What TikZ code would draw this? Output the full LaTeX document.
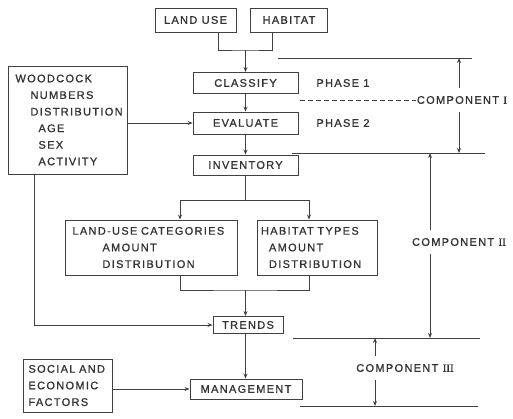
\documentclass[tikz,border=0pt]{standalone}
\usepackage{fontspec}
\newfontfamily\lettering{Liberation Sans}[LetterSpace=12, FakeBold=1]
\newfontfamily\numeral{Liberation Serif}[FakeBold=1]
\usetikzlibrary{arrows.meta}

\begin{document}
\begin{tikzpicture}[x=1pt, y=-1pt, line width=0.9pt, draw=black!75,
	every node/.style={font=\lettering\fontsize{11}{16.6}\selectfont, text=black!80},
	box/.style={draw, inner sep=0pt},
	comp/.style={inner xsep=1pt, inner ysep=8pt},
	flow/.style={-{Stealth[length=5pt,width=4pt]}}]
	\useasboundingbox (0,0) rectangle (513,418);
	% boxes
	\node [box, minimum width=81pt, minimum height=24pt] (landuse) at (195.5,20) {LAND USE};
	\node [box, minimum width=77pt, minimum height=24pt] (habitat) at (289,20) {HABITAT};
	\node [box, minimum width=105pt, minimum height=21pt] (classify) at (245.5,83) {CLASSIFY};
	\node [box, minimum width=105pt, minimum height=22pt] (evaluate) at (245.5,123) {EVALUATE};
	\node [box, minimum width=105pt, minimum height=20pt] (inventory) at (245.5,165) {INVENTORY};
	\node [box, minimum width=119pt, minimum height=108pt, text width=104pt, align=left] (woodcock) at (67.5,120)
		{WOODCOCK\\ \hspace*{15pt}NUMBERS\\ \hspace*{15pt}DISTRIBUTION\\ \hspace*{23pt}AGE\\ \hspace*{23pt}SEX\\ \hspace*{23pt}ACTIVITY};
	\node [box, minimum width=172pt, minimum height=55pt, text width=157pt, align=left] (landusecat) at (151,247.5)
		{LAND-USE CATEGORIES\\ \hspace*{30pt}AMOUNT\\ \hspace*{30pt}DISTRIBUTION};
	\node [box, minimum width=120pt, minimum height=55pt, text width=112pt, align=left] (habitattypes) at (317,247.5)
		{HABITAT TYPES\\ \hspace*{8pt}AMOUNT\\ \hspace*{8pt}DISTRIBUTION};
	\node [box, minimum width=70pt, minimum height=17pt] (trends) at (248,325) {TRENDS};
	\node [box, minimum width=112pt, minimum height=20pt] (management) at (246,389) {MANAGEMENT};
	\node [box, minimum width=89pt, minimum height=53pt, text width=78pt, align=left] (social) at (67.5,385.5)
		{SOCIAL AND\\ ECONOMIC\\ FACTORS};
	% side labels
	\node [anchor=west, inner sep=0pt] (phase1) at (316,83) {PHASE 1};
	\node [anchor=west, inner sep=0pt] (phase2) at (316,123) {PHASE 2};
	\node [comp] (comp1) at (462,100) {COMPONENT {\numeral I}};
	\node [comp] (comp2) at (459,242) {COMPONENT {\numeral II}};
	\node [comp] (comp3) at (405,368) {COMPONENT {\numeral III}};
	% main flow
	\coordinate (mergetop) at (245.5,50);
	\coordinate (split) at (245.5,200);
	\coordinate (merge) at (245.5,290);
	\draw ([xshift=-18pt]landuse.south east) |- (mergetop) -| ([xshift=22pt]habitat.south west);
	\draw [flow] (mergetop) -- (classify.north);
	\draw [flow] (classify) -- (evaluate);
	\draw [flow] (evaluate) -- (inventory);
	\draw [flow] (woodcock.east |- evaluate.west) -- (evaluate.west);
	\draw (inventory) -- (split);
	\draw [flow] (split) -| ([xshift=29pt]landusecat.north);
	\draw [flow] (split) -| ([xshift=-8pt]habitattypes.north);
	\draw ([xshift=29pt]landusecat.south) |- (merge) -| ([xshift=-8pt]habitattypes.south);
	\draw [flow] (merge) -- (merge |- trends.north);
	\draw [flow] ([xshift=27pt]woodcock.south west) |- (trends.west);
	\draw [flow] (trends.south -| merge) -- (management.north -| merge);
	\draw [flow] (social.east |- management.west) -- (management.west);
	% component limits
	\coordinate (c1a) at (278,58); \coordinate (c1b) at (472,58);
	\coordinate (c2a) at (292,153); \coordinate (c2b) at (485,153);
	\coordinate (c3a) at (293,338); \coordinate (c3b) at (480,338);
	\coordinate (c4a) at (300,406); \coordinate (c4b) at (478,406);
	\foreach \n in {1,2,3,4}{
	\draw (c\n a) -- (c\n b);
	}
	\coordinate (c1x) at (459,58);
	\coordinate (c2x) at (430,153);
	\coordinate (c3x) at (375,338);
	\draw [flow] (comp1.north -| c1x) -- (c1x);
	\draw [flow] (comp1.south -| c1x) -- (c1x |- c2a);
	\draw [flow] (comp2.north -| c2x) -- (c2x);
	\draw [flow] (comp2.south -| c2x) -- (c2x |- c3a);
	\draw [flow] (comp3.north -| c3x) -- (c3x);
	\draw [flow] (comp3.south -| c3x) -- (c3x |- c4a);
	\draw [dash pattern=on 5pt off 3pt] ([xshift=2pt]classify.east |- comp1.west) -- (comp1.west);
\end{tikzpicture}
\end{document}
